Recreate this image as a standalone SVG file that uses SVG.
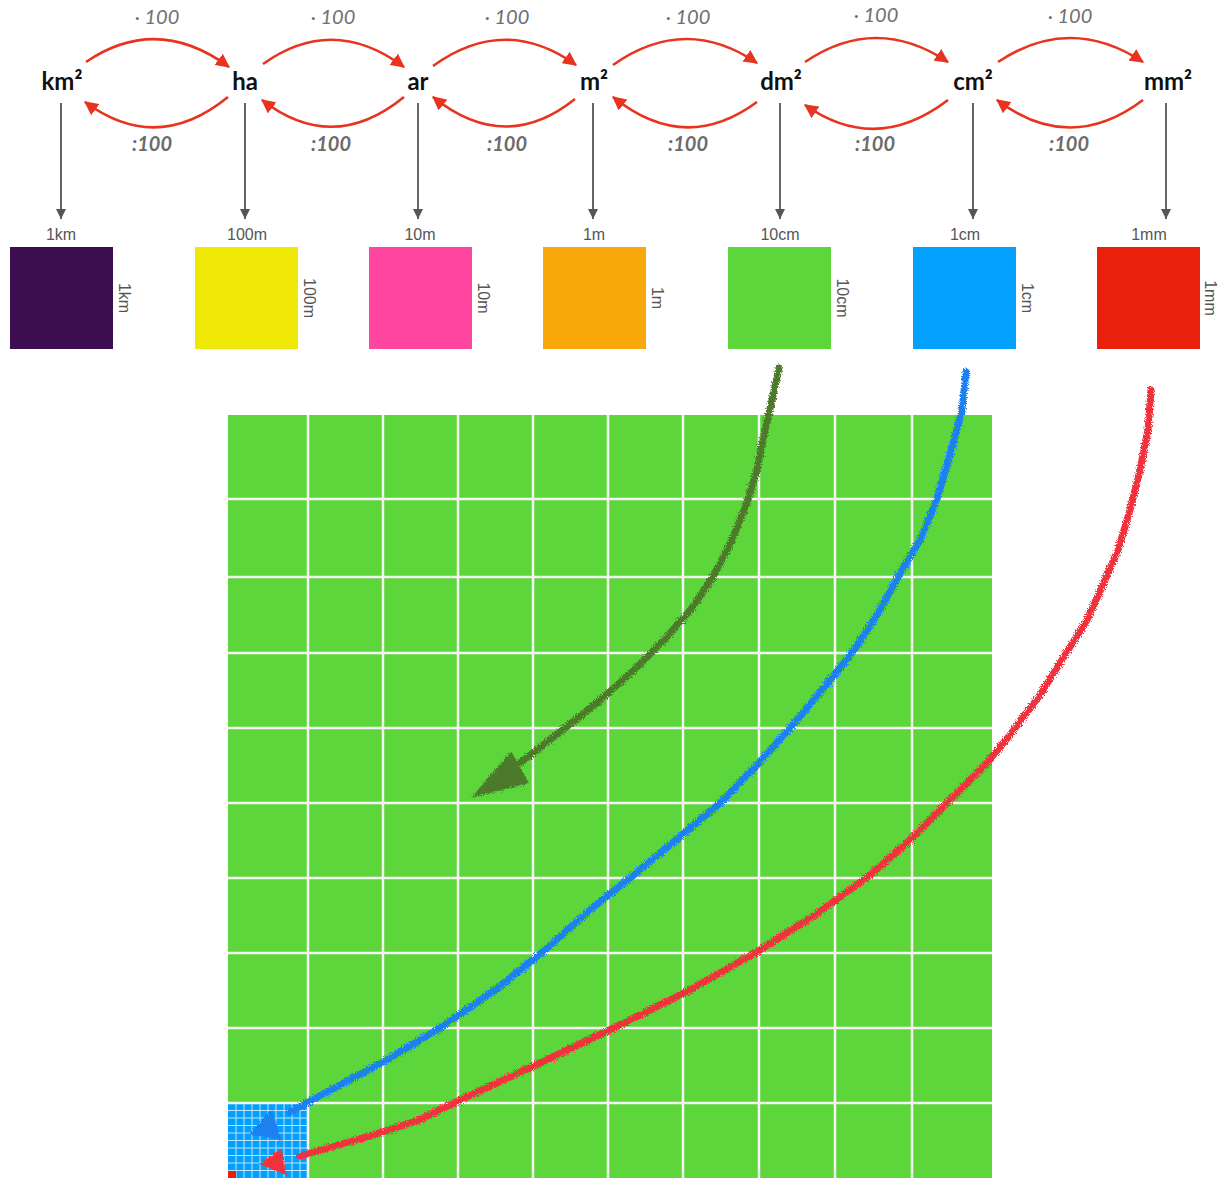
<svg xmlns="http://www.w3.org/2000/svg" width="1226" height="1178" viewBox="0 0 1226 1178">
<defs>
<style>
.unit{font-family:Lato,"Open Sans","Liberation Sans",sans-serif;font-weight:700;font-size:24px;fill:#111;text-anchor:middle}
.op{font-family:Lato,"Open Sans","Liberation Sans",sans-serif;font-style:italic;font-size:20px;fill:#707070;text-anchor:middle}
.div{font-family:Lato,"Open Sans","Liberation Sans",sans-serif;font-style:italic;font-weight:700;font-size:20px;fill:#6b6b6b;text-anchor:middle}
.dim{font-family:"Liberation Sans",Arial,sans-serif;font-size:16px;fill:#555;text-anchor:middle}
.arc{fill:none;stroke:#e8331f;stroke-width:2.6;marker-end:url(#ra)}
.down{fill:none;stroke:#555;stroke-width:1.8;marker-end:url(#ga)}
.grid{stroke:#f4f4f4;stroke-width:2.5}
.sub{stroke:#bfe3fb;stroke-width:1}
.sk{fill:none;stroke-width:7;stroke-linecap:round;stroke-linejoin:round;filter:url(#rough)}
</style>
<marker id="ra" viewBox="0 0 12 12" refX="11" refY="6" markerWidth="14" markerHeight="14" markerUnits="userSpaceOnUse" orient="auto">
<path d="M0,0 L12,6 L0,12 z" fill="#e8331f"/>
</marker>
<marker id="ga" viewBox="0 0 10 10" refX="10" refY="5" markerWidth="11" markerHeight="10" markerUnits="userSpaceOnUse" orient="auto">
<path d="M0,0 L10,5 L0,10 z" fill="#555"/>
</marker>
<filter id="rough" x="-10%" y="-10%" width="120%" height="120%">
<feTurbulence type="fractalNoise" baseFrequency="0.9" numOctaves="2" seed="3"/>
<feDisplacementMap in="SourceGraphic" scale="5"/>
</filter>
</defs>
<rect width="1226" height="1178" fill="#fff"/>

<g id="node-km2"><text class="unit" x="62" y="90">km²</text></g>
<g id="node-ha"><text class="unit" x="245" y="90">ha</text></g>
<g id="node-ar"><text class="unit" x="418" y="90">ar</text></g>
<g id="node-m2"><text class="unit" x="594" y="90">m²</text></g>
<g id="node-dm2"><text class="unit" x="781" y="90">dm²</text></g>
<g id="node-cm2"><text class="unit" x="973" y="90">cm²</text></g>
<g id="node-mm2"><text class="unit" x="1168" y="90">mm²</text></g>

<g id="connectors">
<path class="arc" d="M86,62 Q157,14 229,67"/>
<path class="arc" d="M228,97 Q157,155 85,102"/>
<path class="arc" d="M263,64 Q333,14 404,67"/>
<path class="arc" d="M404,97 Q333,155 262,100"/>
<path class="arc" d="M433,66 Q505,14 576,65"/>
<path class="arc" d="M575,99 Q505,155 433,97"/>
<path class="arc" d="M613,65 Q685,14 757,63"/>
<path class="arc" d="M757,102 Q685,155 613,97"/>
<path class="arc" d="M805,62 Q876,14 948,62"/>
<path class="arc" d="M948,100 Q876,155 805,105"/>
<path class="arc" d="M998,62 Q1070,14 1143,62"/>
<path class="arc" d="M1143,100 Q1070,155 997,100"/>
<path class="down" d="M61,103 V219"/>
<path class="down" d="M245,103 V219"/>
<path class="down" d="M418,103 V219"/>
<path class="down" d="M593,103 V219"/>
<path class="down" d="M780,103 V219"/>
<path class="down" d="M973,103 V219"/>
<path class="down" d="M1166,103 V219"/>
</g>

<g id="ops">
<text class="op" x="157" y="24">· 100</text>
<text class="op" x="333" y="24">· 100</text>
<text class="op" x="507" y="24">· 100</text>
<text class="op" x="688" y="24">· 100</text>
<text class="op" x="876" y="22">· 100</text>
<text class="op" x="1070" y="23">· 100</text>
<text class="div" x="152" y="151">:100</text>
<text class="div" x="331" y="151">:100</text>
<text class="div" x="507" y="151">:100</text>
<text class="div" x="688" y="151">:100</text>
<text class="div" x="875" y="151">:100</text>
<text class="div" x="1069" y="151">:100</text>
</g>

<g id="sq-1km"><text class="dim" x="61" y="240">1km</text><rect x="10" y="247" width="103" height="102" fill="#3d0e4f"/><text class="dim" transform="translate(119,298) rotate(90)">1km</text></g>
<g id="sq-100m"><text class="dim" x="247" y="240">100m</text><rect x="195" y="247" width="103" height="102" fill="#f0e806"/><text class="dim" transform="translate(304,298) rotate(90)">100m</text></g>
<g id="sq-10m"><text class="dim" x="420" y="240">10m</text><rect x="369" y="247" width="103" height="102" fill="#fe46a0"/><text class="dim" transform="translate(478,298) rotate(90)">10m</text></g>
<g id="sq-1m"><text class="dim" x="594" y="240">1m</text><rect x="543" y="247" width="103" height="102" fill="#f8a80a"/><text class="dim" transform="translate(652,298) rotate(90)">1m</text></g>
<g id="sq-10cm"><text class="dim" x="780" y="240">10cm</text><rect x="728" y="247" width="103" height="102" fill="#5cd63b"/><text class="dim" transform="translate(837,298) rotate(90)">10cm</text></g>
<g id="sq-1cm"><text class="dim" x="965" y="240">1cm</text><rect x="913" y="247" width="103" height="102" fill="#03a0fd"/><text class="dim" transform="translate(1022,298) rotate(90)">1cm</text></g>
<g id="sq-1mm"><text class="dim" x="1149" y="240">1mm</text><rect x="1097" y="247" width="103" height="102" fill="#e9210c"/><text class="dim" transform="translate(1205,298) rotate(90)">1mm</text></g>

<g id="big-grid">
<rect x="228" y="415" width="764" height="763" fill="#5cd63b"/>
<rect x="228" y="1103" width="80" height="75" fill="#03a0fd"/>
<g class="sub">
<path d="M236,1103V1178M244,1103V1178M252,1103V1178M260,1103V1178M268,1103V1178M276,1103V1178M284,1103V1178M292,1103V1178M300,1103V1178"/>
<path d="M228,1110.5H308M228,1118H308M228,1125.5H308M228,1133H308M228,1140.5H308M228,1148H308M228,1155.5H308M228,1163H308M228,1170.5H308"/>
</g>
<rect x="228" y="1171" width="8" height="7" fill="#e9210c"/>
<g class="grid">
<path d="M308,415V1178M383,415V1178M458,415V1178M533,415V1178M608,415V1178M683,415V1178M759,415V1178M835,415V1178M912,415V1178"/>
<path d="M228,499H992M228,577H992M228,653H992M228,728H992M228,803H992M228,878H992M228,953H992M228,1028H992M228,1103H992"/>
</g>
</g>

<g id="sketch-arrows">
<path class="sk" stroke="#4e7a2c" d="M779,368 L772,400 L765,430 L757,470 L746,505 L732,540 L714,575 L692,608 L664,640 L632,672 L598,702 L560,732 L520,763"/>
<path fill="#4e7a2c" filter="url(#rough)" d="M471,798 L511,751 L529,783 z"/>
<path class="sk" stroke="#1a80f0" d="M966,372 L962,410 L950,455 L937,499 L920,540 L898,577 L877,615 L852,653 L822,690 L790,728 L757,765 L720,803 L676,840 L630,878 L590,910 L545,950 L495,990 L440,1028 L390,1058 L340,1085 L290,1112"/>
<path fill="#1a80f0" filter="url(#rough)" d="M249,1134 L272,1109 L281,1140 z"/>
<path class="sk" stroke="#f0303c" d="M1151,390 L1148,430 L1140,470 L1130,510 L1118,550 L1105,580 L1087,620 L1065,655 L1040,695 L1010,735 L985,765 L950,800 L910,840 L870,875 L815,915 L760,950 L690,990 L620,1025 L540,1063 L460,1100 L419,1120 L370,1136 L300,1156"/>
<path fill="#f0303c" filter="url(#rough)" d="M259,1164 L281,1149 L287,1175 z"/>
</g>
</svg>
